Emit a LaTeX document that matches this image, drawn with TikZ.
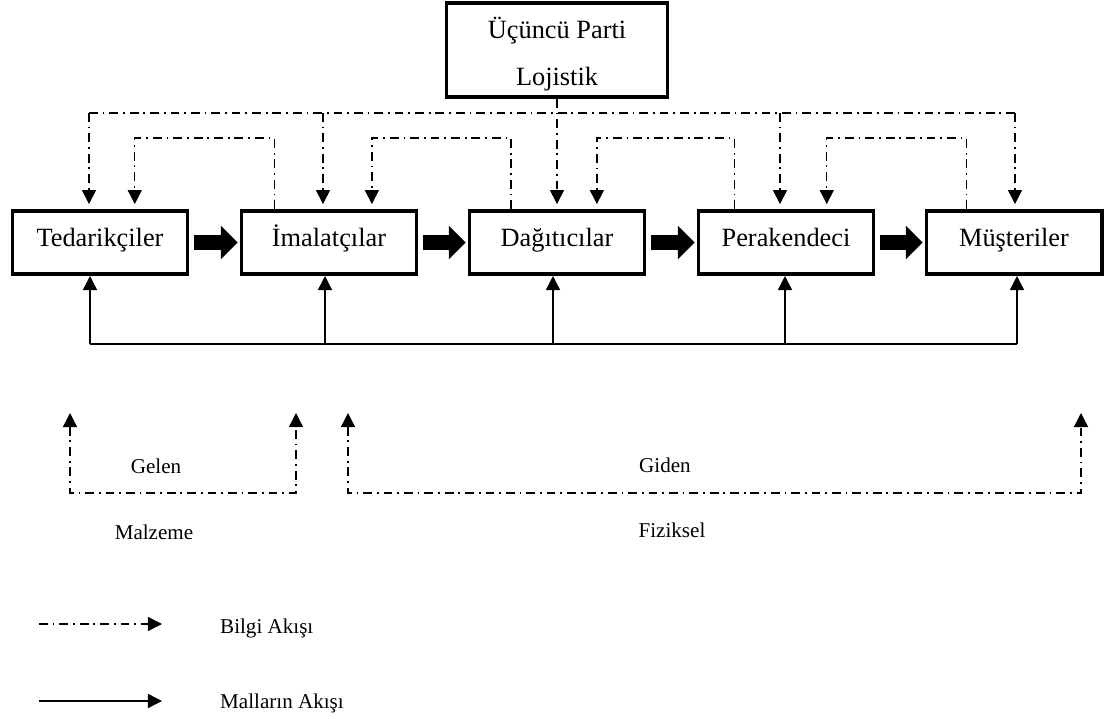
\documentclass[tikz,border=0pt]{standalone}
\usepackage{fontspec}
\setmainfont{Liberation Serif}
\usetikzlibrary{arrows.meta}

\begin{document}
\begin{tikzpicture}[
          x=0.02cm, y=0.02cm,
          >={Triangle[width=8pt,length=8pt]},
          box/.style={draw, line width=2pt, minimum width=3.51cm, minimum height=1.27cm, inner sep=2pt, text height=8pt, text depth=2.9pt, font=\fontsize{15}{18}\selectfont},
          info/.style={line width=0.75pt, dash pattern=on 5pt off 2.8pt on 1pt off 2.8pt},
          infoarrow/.style={info, ->, shorten >=2.8pt},
          goods/.style={line width=0.8pt},
          flow/.style={line width=9pt, -{Triangle[width=18.5pt,length=9.5pt]}, shorten <=2.3pt, shorten >=1.1pt},
          lbl/.style={font=\fontsize{12}{14}\selectfont},
        ]
          \useasboundingbox (0,0) rectangle (1109,-719);
          \node[box, minimum width=4.43cm, minimum height=1.89cm, text height=, text depth=, align=center] (loj) at (557,-50) {\rule{0pt}{17pt}Üçüncü Parti\\[8.5pt]Lojistik};
          \node[box] (ted) at (100,-242.5) {Tedarikçiler};
          \node[box] (ima) at (329,-242.5) {İmalatçılar};
          \node[box] (dag) at (557,-242.5) {Dağıtıcılar};
          \node[box] (per) at (786,-242.5) {Perakendeci};
          \node[box] (mus) at (1014,-242.5) {Müşteriler};
          \draw[flow] (ted) -- (ima);
          \draw[flow] (ima) -- (dag);
          \draw[flow] (dag) -- (per);
          \draw[flow] (per) -- (mus);
          \coordinate (t1) at (89,-113);
          \coordinate (t2) at (323,-113);
          \coordinate (t4) at (780,-113);
          \coordinate (t5) at (1015,-113);
          \draw[info] (t1) -- (t5);
          \draw[infoarrow] (t1) -- (t1 |- ted.north);
          \draw[infoarrow] (t2) -- (t2 |- ima.north);
          \draw[infoarrow] (loj) -- (dag);
          \draw[infoarrow] (t4) -- (t4 |- per.north);
          \draw[infoarrow] (t5) -- (t5 |- mus.north);
          \draw[infoarrow] ([xshift=-31.2pt]ima.north) -- ++(0,71) -| ([xshift=19.8pt]ted.north);
          \draw[infoarrow] ([xshift=-26.1pt]dag.north) -- ++(0,71) -| ([xshift=24.4pt]ima.north);
          \draw[infoarrow] ([xshift=-29.5pt]per.north) -- ++(0,71) -| ([xshift=22.7pt]dag.north);
          \draw[infoarrow] ([xshift=-27.2pt]mus.north) -- ++(0,71) -| ([xshift=23.2pt]per.north);
          \coordinate (b1) at (90,-344);
          \coordinate (b2) at (325,-344);
          \coordinate (b3) at (553,-344);
          \coordinate (b4) at (785,-344);
          \coordinate (b5) at (1017,-344);
          \draw[goods] (b1) -- (b5);
          \draw[goods, ->] (b1) -- (b1 |- ted.south);
          \draw[goods, ->] (b2) -- (b2 |- ima.south);
          \draw[goods, ->] (b3) -- (b3 |- dag.south);
          \draw[goods, ->] (b4) -- (b4 |- per.south);
          \draw[goods, ->] (b5) -- (b5 |- mus.south);
          \coordinate (gel1) at (70,-413);
          \coordinate (gel2) at (296,-413);
          \draw[info, <->] (gel1) -- ++(0,-80) -| (gel2);
          \coordinate (gid1) at (348,-413);
          \coordinate (gid2) at (1081,-413);
          \draw[info, <->] (gid1) -- ++(0,-80) -| (gid2);
          \node[lbl] (gelen) at (156,-466) {Gelen};
          \node[lbl] (malzeme) at (154,-532) {Malzeme};
          \node[lbl] (giden) at (665,-465) {Giden};
          \node[lbl] (fiziksel) at (672,-530) {Fiziksel};
          \coordinate (k1) at (39,-624);
          \coordinate (k2) at (162,-624);
          \draw[info, ->] (k1) -- (k2);
          \node[lbl, anchor=west] (kinfo) at (214,-628) {Bilgi Akışı};
          \coordinate (k3) at (39,-701);
          \coordinate (k4) at (162,-701);
          \draw[goods, ->] (k3) -- (k4);
          \node[lbl, anchor=west] (kgoods) at (214,-703) {Malların Akışı};
        \end{tikzpicture}
\end{document}
